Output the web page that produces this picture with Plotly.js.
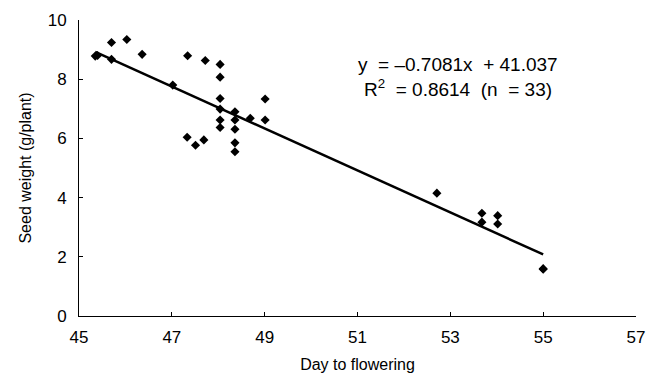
<!DOCTYPE html>
<html>
<head>
<meta charset="utf-8">
<script src="https://cdn.plot.ly/plotly-3.0.1.min.js"></script>
<style>html,body{margin:0;padding:0;background:#fff;}#chart{width:659px;height:376px;}</style>
</head>
<body>
<div id="chart"></div>
<script>
// Days to flowering (x) and seed weight g/plant (y)
var days = [45.35, 45.40, 45.70, 45.70, 46.03, 46.36, 47.02, 47.34, 47.72, 48.04,
            48.04, 48.04, 48.04, 48.04, 48.04, 48.36, 48.36, 48.36, 48.36, 48.36,
            48.69, 49.01, 49.01, 47.33, 47.51, 47.69, 52.71, 53.68, 53.68, 54.02,
            54.02, 55.00, 55.00];
var seedWeight = [8.78, 8.80, 9.24, 8.67, 9.34, 8.84, 7.80, 8.79, 8.63, 8.50,
                  8.07, 7.35, 6.99, 6.62, 6.37, 6.90, 6.62, 6.31, 5.85, 5.55,
                  6.68, 7.33, 6.62, 6.04, 5.77, 5.95, 4.15, 3.47, 3.17, 3.39,
                  3.11, 1.58, 1.60];
// Regression line end points as drawn
var trendX = [45.35, 55.0];
var trendY = [8.92, 2.08];
var xTicks = [45, 47, 49, 51, 53, 55, 57];
var yTicks = [0, 2, 4, 6, 8, 10];
var eqText = "y&#160;&#160;=&#160;\u20130.7081x&#160;&#160;+&#160;41.037";
var r2Text = "R<sup>2</sup>&#160;&#160;=&#160;0.8614&#160;&#160;(n&#160;&#160;=&#160;33)";

var font = "Liberation Sans, Arial, Helvetica, sans-serif";

var traces = [
  {x: trendX, y: trendY, type: "scatter", mode: "lines",
   line: {color: "#000", width: 2.5}, hoverinfo: "skip", showlegend: false},
  {x: days, y: seedWeight, type: "scatter", mode: "markers",
   marker: {symbol: "diamond", size: 7, color: "#000"}, showlegend: false}
];

var layout = {
  width: 659, height: 376,
  margin: {l: 79, r: 23, t: 20, b: 60, pad: 0},
  paper_bgcolor: "#fff", plot_bgcolor: "#fff",
  font: {family: font, color: "#000", size: 17},
  showlegend: false,
  xaxis: {
    range: [45, 57], tickvals: xTicks, ticktext: xTicks.map(String),
    showgrid: false, zeroline: false, showline: true, linecolor: "#000", linewidth: 1,
    ticks: "inside", ticklen: 4, tickcolor: "#000", tickwidth: 1,
    ticklabelstandoff: 6,
    tickfont: {family: font, size: 17, color: "#000"},
    title: {text: "Day to flowering", font: {family: font, size: 16, color: "#000"}, standoff: 12}
  },
  yaxis: {
    range: [0, 10], tickvals: yTicks, ticktext: yTicks.map(String),
    showgrid: false, zeroline: false, showline: true, linecolor: "#000", linewidth: 1,
    ticks: "inside", ticklen: 4, tickcolor: "#000", tickwidth: 1,
    ticklabelstandoff: 8,
    tickfont: {family: font, size: 17, color: "#000"},
    title: {text: "Seed weight (g/plant)", font: {family: font, size: 16, color: "#000"}, standoff: 12}
  },
  annotations: [
    {x: 53.17, y: 8.51, xref: "x", yref: "y", text: eqText, showarrow: false,
     font: {family: font, size: 19, color: "#000"}, xanchor: "center", yanchor: "middle"},
    {x: 53.17, y: 7.70, xref: "x", yref: "y", text: r2Text, showarrow: false,
     font: {family: font, size: 19, color: "#000"}, xanchor: "center", yanchor: "middle"}
  ]
};

Plotly.newPlot("chart", traces, layout, {displayModeBar: false, staticPlot: true});
</script>
</body>
</html>
